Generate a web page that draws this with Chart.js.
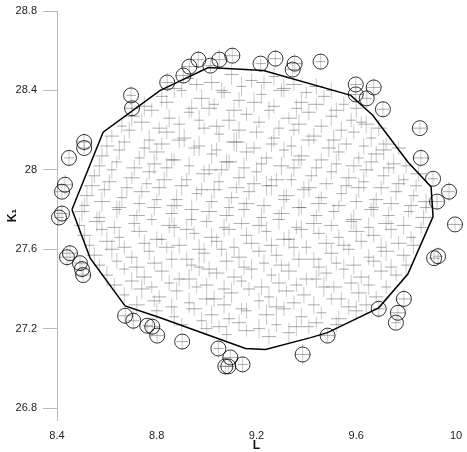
<!DOCTYPE html>
<html lang="en">
<head>
<meta charset="UTF-8">
<title>K1 vs L</title>
<script src="https://cdn.jsdelivr.net/npm/chart.js"></script>
<style>
  body { margin: 0; background: #fff; }
</style>
</head>
<body>
<canvas id="chart" width="467" height="452"></canvas>
<script>
// tick labels
const xTicks = [8.4, 8.8, 9.2, 9.6, 10];
const yTicks = [26.8, 27.2, 27.6, 28, 28.4, 28.8];

// points inside the hull (gray crosses)
const innerL = [
  8.93, 9.02, 9.10, 9.18, 9.27, 9.35, 9.44,
  8.82, 8.90, 8.98, 9.07, 9.13, 9.22, 9.30, 9.38, 9.47, 9.55,
  8.70, 8.78, 8.85, 8.93, 9.01, 9.09, 9.16, 9.25, 9.33, 9.41, 9.50, 9.58, 9.64,
  8.62, 8.69, 8.77, 8.84, 8.91, 8.99, 9.05, 9.12, 9.20, 9.27, 9.35, 9.43, 9.51, 9.59, 9.66, 9.72,
  8.58, 8.65, 8.73, 8.80, 8.87, 8.95, 9.02, 9.09, 9.16, 9.24, 9.31, 9.38, 9.46, 9.53, 9.61, 9.68, 9.75,
  8.55, 8.62, 8.70, 8.77, 8.84, 8.92, 8.99, 9.06, 9.13, 9.20, 9.28, 9.35, 9.42, 9.50, 9.57, 9.64, 9.71, 9.79, 9.85,
  8.52, 8.59, 8.66, 8.74, 8.81, 8.88, 8.96, 9.03, 9.10, 9.17, 9.24, 9.32, 9.39, 9.46, 9.54, 9.61, 9.68, 9.76, 9.83, 9.88,
  8.50, 8.57, 8.64, 8.72, 8.79, 8.86, 8.94, 9.01, 9.08, 9.15, 9.22, 9.30, 9.37, 9.44, 9.51, 9.59, 9.66, 9.73, 9.81, 9.87,
  8.51, 8.58, 8.65, 8.73, 8.80, 8.87, 8.95, 9.02, 9.09, 9.16, 9.24, 9.31, 9.38, 9.45, 9.53, 9.60, 9.67, 9.74, 9.82,
  8.55, 8.62, 8.70, 8.77, 8.84, 8.92, 8.99, 9.06, 9.13, 9.21, 9.28, 9.35, 9.43, 9.50, 9.57, 9.65, 9.72, 9.79,
  8.60, 8.67, 8.75, 8.82, 8.89, 8.97, 9.04, 9.11, 9.18, 9.26, 9.33, 9.40, 9.48, 9.55, 9.62, 9.70, 9.76,
  8.67, 8.74, 8.81, 8.88, 8.96, 9.03, 9.10, 9.17, 9.25, 9.32, 9.39, 9.47, 9.54, 9.61, 9.68,
  8.80, 8.87, 8.95, 9.02, 9.09, 9.16, 9.24, 9.31, 9.38, 9.46, 9.53, 9.60,
  9.00, 9.08, 9.16, 9.25, 9.33, 9.41,
  8.87, 8.96, 9.06, 9.14, 9.23, 9.31, 9.40, 9.50,
  8.75, 8.84, 8.94, 9.03, 9.11, 9.19, 9.27, 9.36, 9.44, 9.52, 9.60,
  8.66, 8.74, 8.81, 8.89, 8.97, 9.04, 9.13, 9.21, 9.29, 9.37, 9.46, 9.54, 9.62, 9.69,
  8.60, 8.67, 8.75, 8.82, 8.89, 8.97, 9.04, 9.11, 9.19, 9.26, 9.34, 9.41, 9.49, 9.56, 9.63, 9.71, 9.77,
  8.57, 8.64, 8.71, 8.79, 8.86, 8.93, 9.01, 9.08, 9.15, 9.22, 9.30, 9.37, 9.44, 9.52, 9.59, 9.66, 9.73, 9.80,
  8.54, 8.61, 8.68, 8.76, 8.83, 8.90, 8.98, 9.05, 9.12, 9.19, 9.26, 9.34, 9.41, 9.48, 9.56, 9.63, 9.70, 9.77, 9.84,
  8.51, 8.58, 8.65, 8.73, 8.80, 8.87, 8.94, 9.02, 9.09, 9.16, 9.23, 9.31, 9.38, 9.45, 9.53, 9.60, 9.67, 9.74, 9.82, 9.88,
  8.49, 8.56, 8.63, 8.71, 8.78, 8.85, 8.92, 9.00, 9.07, 9.14, 9.21, 9.29, 9.36, 9.43, 9.50, 9.58, 9.65, 9.72, 9.79, 9.86,
  8.53, 8.60, 8.67, 8.75, 8.82, 8.89, 8.97, 9.04, 9.11, 9.18, 9.26, 9.33, 9.40, 9.48, 9.55, 9.62, 9.70, 9.77, 9.83,
  8.57, 8.64, 8.72, 8.79, 8.86, 8.94, 9.01, 9.08, 9.15, 9.23, 9.30, 9.37, 9.45, 9.52, 9.59, 9.67, 9.74, 9.80,
  8.63, 8.70, 8.78, 8.85, 8.93, 9.00, 9.07, 9.14, 9.22, 9.29, 9.36, 9.44, 9.51, 9.58, 9.65, 9.72,
  8.72, 8.79, 8.86, 8.93, 9.00, 9.07, 9.14, 9.21, 9.28, 9.35, 9.43, 9.50, 9.57, 9.64,
  8.90, 8.98, 9.05, 9.13, 9.21, 9.28, 9.36, 9.44, 9.52
];
const innerK = [
  28.46, 28.44, 28.48, 28.45, 28.47, 28.43, 28.42,
  28.37, 28.40, 28.36, 28.39, 28.35, 28.38, 28.40, 28.34, 28.37, 28.33,
  28.27, 28.30, 28.26, 28.29, 28.31, 28.25, 28.28, 28.30, 28.26, 28.29, 28.27, 28.25, 28.23,
  28.17, 28.20, 28.15, 28.19, 28.16, 28.21, 28.18, 28.14, 28.19, 28.16, 28.20, 28.17, 28.15, 28.19, 28.16, 28.13,
  28.07, 28.10, 28.06, 28.09, 28.05, 28.11, 28.08, 28.04, 28.09, 28.06, 28.10, 28.07, 28.05, 28.09, 28.06, 28.08, 28.03,
  27.97, 28.00, 27.96, 27.99, 28.01, 27.95, 27.98, 28.00, 27.96, 27.99, 27.95, 28.01, 27.97, 27.99, 27.96, 28.00, 27.97, 27.95, 27.98,
  27.87, 27.90, 27.86, 27.89, 27.91, 27.85, 27.88, 27.90, 27.86, 27.89, 27.92, 27.87, 27.90, 27.86, 27.88, 27.91, 27.85, 27.89, 27.87, 27.84,
  27.79, 27.76, 27.80, 27.77, 27.81, 27.78, 27.75, 27.79, 27.77, 27.80, 27.76, 27.78, 27.81, 27.77, 27.79, 27.75, 27.80, 27.77, 27.79, 27.76,
  27.67, 27.70, 27.66, 27.69, 27.65, 27.71, 27.68, 27.66, 27.70, 27.67, 27.69, 27.65, 27.70, 27.68, 27.66, 27.69, 27.67, 27.70, 27.66,
  27.57, 27.60, 27.56, 27.59, 27.61, 27.55, 27.58, 27.60, 27.56, 27.59, 27.57, 27.61, 27.55, 27.58, 27.60, 27.56, 27.59, 27.57,
  27.47, 27.50, 27.46, 27.49, 27.45, 27.51, 27.48, 27.46, 27.50, 27.47, 27.49, 27.45, 27.48, 27.50, 27.46, 27.49, 27.47,
  27.37, 27.40, 27.36, 27.39, 27.41, 27.35, 27.38, 27.40, 27.36, 27.39, 27.37, 27.41, 27.35, 27.38, 27.36,
  27.29, 27.26, 27.30, 27.27, 27.25, 27.29, 27.27, 27.30, 27.26, 27.28, 27.25, 27.29,
  27.20, 27.17, 27.19, 27.16, 27.18, 27.21,
  28.41, 28.43, 28.40, 28.42, 28.44, 28.41, 28.39, 28.40,
  28.32, 28.34, 28.31, 28.33, 28.30, 28.34, 28.32, 28.31, 28.33, 28.30, 28.31,
  28.22, 28.24, 28.21, 28.23, 28.25, 28.22, 28.20, 28.24, 28.21, 28.23, 28.22, 28.20, 28.24, 28.21,
  28.12, 28.14, 28.11, 28.13, 28.15, 28.12, 28.10, 28.14, 28.11, 28.13, 28.12, 28.15, 28.11, 28.13, 28.12, 28.10, 28.11,
  28.02, 28.04, 28.01, 28.03, 28.05, 28.02, 28.00, 28.04, 28.01, 28.03, 28.02, 28.05, 28.01, 28.03, 28.02, 28.04, 28.01, 28.02,
  27.92, 27.94, 27.91, 27.93, 27.95, 27.92, 27.90, 27.94, 27.91, 27.93, 27.92, 27.95, 27.91, 27.93, 27.92, 27.94, 27.91, 27.93, 27.92,
  27.82, 27.84, 27.81, 27.83, 27.85, 27.82, 27.80, 27.84, 27.81, 27.83, 27.82, 27.85, 27.81, 27.83, 27.82, 27.84, 27.81, 27.83, 27.82, 27.81,
  27.72, 27.74, 27.71, 27.73, 27.75, 27.72, 27.70, 27.74, 27.71, 27.73, 27.72, 27.75, 27.71, 27.73, 27.72, 27.74, 27.71, 27.73, 27.72, 27.71,
  27.62, 27.64, 27.61, 27.63, 27.65, 27.62, 27.60, 27.64, 27.61, 27.63, 27.62, 27.65, 27.61, 27.63, 27.62, 27.64, 27.61, 27.63, 27.62,
  27.52, 27.54, 27.51, 27.53, 27.55, 27.52, 27.50, 27.54, 27.51, 27.53, 27.52, 27.55, 27.51, 27.53, 27.52, 27.54, 27.51, 27.52,
  27.42, 27.44, 27.41, 27.43, 27.45, 27.42, 27.40, 27.44, 27.41, 27.43, 27.42, 27.45, 27.41, 27.43, 27.42, 27.41,
  27.32, 27.34, 27.31, 27.33, 27.35, 27.32, 27.30, 27.34, 27.31, 27.33, 27.32, 27.35, 27.31, 27.32,
  27.22, 27.24, 27.21, 27.23, 27.20, 27.22, 27.21, 27.23, 27.22
];

// points outside the hull (open circles)
const outerL = [8.697, 8.701, 8.509, 8.509, 8.448, 8.432, 8.420, 8.420, 8.408, 8.452,
  8.440, 8.492, 8.500, 8.505, 8.673, 8.706, 8.762, 8.782, 8.802, 8.902,
  9.047, 9.095, 9.075, 9.087, 9.144, 9.385, 9.485, 9.690, 9.759, 9.767,
  9.791, 9.912, 9.928, 9.996, 9.924, 9.972, 9.908, 9.859, 9.855, 9.707,
  9.642, 9.598, 9.670, 9.598, 9.457, 9.353, 9.345, 9.276, 9.216, 9.103,
  9.051, 9.015, 8.967, 8.931, 8.907, 8.842];
const outerK = [28.375, 28.31, 28.14, 28.11, 28.06, 27.925, 27.89, 27.78, 27.76, 27.58,
  27.56, 27.53, 27.50, 27.47, 27.265, 27.24, 27.215, 27.21, 27.165, 27.135,
  27.10, 27.055, 27.01, 27.01, 27.02, 27.07, 27.165, 27.30, 27.23, 27.28,
  27.35, 27.555, 27.565, 27.725, 27.84, 27.89, 27.955, 28.06, 28.21, 28.305,
  28.36, 28.38, 28.415, 28.43, 28.545, 28.535, 28.505, 28.56, 28.535, 28.575,
  28.555, 28.525, 28.555, 28.52, 28.475, 28.44];

// hull vertices
const hullL = [8.46, 8.585, 8.814, 9.007, 9.228, 9.578, 9.666, 9.807, 9.90, 9.908,
  9.807, 9.69, 9.485, 9.417, 9.236, 9.156, 8.814, 8.673, 8.533, 8.46];
const hullK = [27.80, 28.19, 28.40, 28.515, 28.50, 28.375, 28.275, 28.04, 27.915, 27.765,
  27.475, 27.305, 27.18, 27.155, 27.095, 27.10, 27.255, 27.315, 27.555, 27.80];

const toPts = (xs, ys) => xs.slice(0, Math.min(xs.length, ys.length)).map((x, i) => ({x: x, y: ys[i]}));
const crossPts = toPts(innerL, innerK).concat(toPts(outerL, outerK));

new Chart('chart', {
  type: 'scatter',
  data: {
    datasets: [{
      // vertical arms of the crosses
      data: crossPts,
      pointStyle: 'line',
      rotation: 90,
      radius: ctx => 6 + (ctx.dataIndex * 7) % 5,
      borderColor: 'rgba(150,150,150,0.5)',
      borderWidth: 1,
      clip: false,
      order: 4
    }, {
      // horizontal arms
      data: crossPts,
      pointStyle: 'line',
      radius: ctx => 5 + (ctx.dataIndex * 3) % 4,
      borderColor: 'rgba(90,90,90,0.5)',
      borderWidth: 1,
      clip: false,
      order: 3
    }, {
      data: toPts(hullL, hullK),
      showLine: true,
      borderColor: '#000',
      borderWidth: 1.5,
      pointRadius: 0,
      tension: 0,
      clip: false,
      order: 2
    }, {
      data: toPts(outerL, outerK),
      pointStyle: 'circle',
      radius: 7.5,
      borderColor: 'rgba(0,0,0,0.8)',
      backgroundColor: 'transparent',
      borderWidth: 1,
      clip: false,
      order: 1
    }]
  },
  options: {
    responsive: false,
    animation: false,
    layout: { padding: { top: 8, right: 4, left: 0, bottom: 0 } },
    plugins: { legend: { display: false }, tooltip: { enabled: false } },
    scales: {
      x: {
        min: 8.4,
        max: 10.0,
        afterBuildTicks: s => { s.ticks = xTicks.map(v => ({value: v})); },
        afterFit: s => { s.height = 32; s.paddingLeft = 0; s.paddingRight = 0; },
        border: { display: false },
        grid: { display: false, drawTicks: false },
        ticks: {
          padding: 9,
          maxRotation: 0,
          color: '#222',
          font: { family: 'Liberation Sans, Arial', size: 11 },
          callback: v => String(v)
        },
        title: {
          display: true,
          text: 'L',
          color: '#111',
          padding: 0,
          font: { family: 'Liberation Sans, Arial', size: 12, weight: 'bold', lineHeight: 1 }
        }
      },
      y: {
        min: 26.74,
        max: 28.8,
        afterBuildTicks: s => { s.ticks = yTicks.map(v => ({value: v})); },
        afterFit: s => { s.width = 57; s.paddingTop = 0; s.paddingBottom = 0; },
        border: { display: true, color: '#bbb', width: 1 },
        grid: { drawOnChartArea: false, drawTicks: true, tickLength: 14, color: '#bbb' },
        ticks: {
          padding: 6,
          color: '#222',
          font: { family: 'Liberation Sans, Arial', size: 11 },
          callback: v => String(v)
        },
        title: {
          display: true,
          text: 'K₁',
          color: '#111',
          padding: { top: 7, bottom: 0 },
          font: { family: 'Liberation Sans, Arial', size: 12, weight: 'bold', lineHeight: 1 }
        }
      }
    }
  }
});
</script>
</body>
</html>
